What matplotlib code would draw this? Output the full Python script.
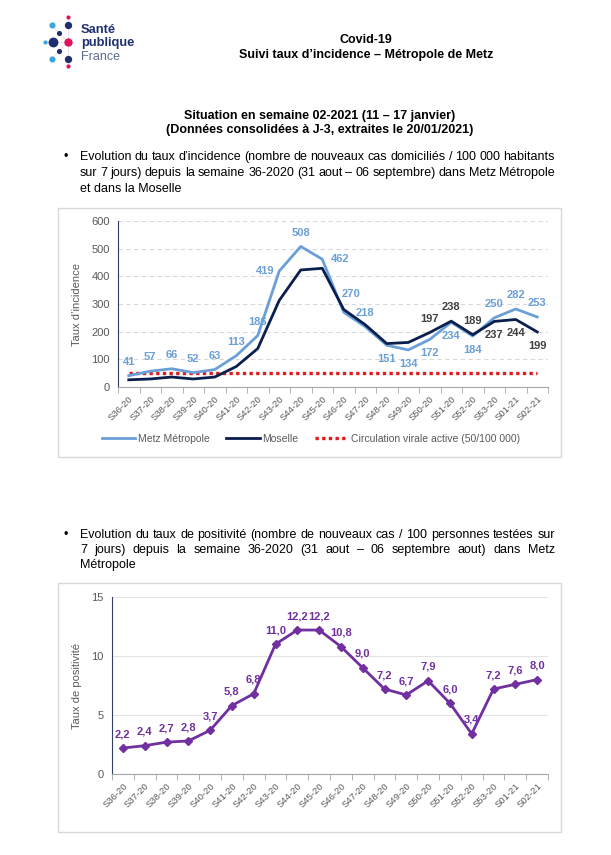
import numpy as np
import matplotlib.pyplot as plt
from matplotlib.patches import Rectangle
from matplotlib.lines import Line2D

plt.rcParams['font.family'] = ['Liberation Sans', 'DejaVu Sans']

# --- data -----------------------------------------------------------------
semaines = ['S36-20', 'S37-20', 'S38-20', 'S39-20', 'S40-20', 'S41-20', 'S42-20',
            'S43-20', 'S44-20', 'S45-20', 'S46-20', 'S47-20', 'S48-20', 'S49-20',
            'S50-20', 'S51-20', 'S52-20', 'S53-20', 'S01-21', 'S02-21']
metz = [41, 57, 66, 52, 63, 113, 186, 419, 508, 462, 270, 218, 151, 134, 172,
        234, 184, 250, 282, 253]
moselle = [26, 29, 36, 29, 36, 74, 139, 313, 423, 429, 280, 225, 157, 161, 197,
           238, 189, 237, 244, 199]
seuil = 50
positivite = [2.2, 2.4, 2.7, 2.8, 3.7, 5.8, 6.8, 11.0, 12.2, 12.2, 10.8, 9.0, 7.2,
              6.7, 7.9, 6.0, 3.4, 7.2, 7.6, 8.0]

# where each label sits (a = above, b = below, l = left, r = right, ar = above right)
pos_metz = ['a'] * 7 + ['l', 'a', 'r', 'ar', 'a', 'b', 'b', 'b', 'b', 'b', 'a', 'a', 'a']
pos_moselle = [None] * 14 + ['a', 'a', 'a', 'b', 'b', 'b']

offsets = {'a': (0, 10), 'b': (0, -10), 'l': (-10, 0), 'r': (13, 0), 'ar': (5, 13)}

W, H = 611, 855
fig = plt.figure(figsize=(W / 100, H / 100), dpi=100)

# page layer in pixel coordinates
page = fig.add_axes([0, 0, 1, 1], zorder=0)
page.set_xlim(0, W)
page.set_ylim(H, 0)
page.axis('off')

# logo
navy = '#1d2f6f'
pink = '#e0115f'
light = '#3aa8df'
dots = [(68, 17, pink, 9), (52, 25, light, 20), (68, 25, navy, 28), (59, 33, navy, 14),
        (45, 42, light, 9), (53, 42, navy, 50), (68, 42, pink, 36), (59, 51, navy, 14),
        (52, 59, light, 20), (68, 59, navy, 28), (68, 66, pink, 9)]
for a, b in [(0, 2), (2, 6), (6, 9), (9, 10), (4, 5), (5, 6), (1, 3), (3, 6), (6, 7), (7, 8)]:
    page.plot([dots[a][0], dots[b][0]], [dots[a][1], dots[b][1]], color='#ecdde3', lw=0.6, zorder=1)
for px, py, c, s in dots:
    page.scatter(px, py, s=s, color=c, zorder=2, linewidths=0)
page.text(81, 30, 'Santé', fontsize=9.3, fontweight='bold', color=navy, va='center')
page.text(81, 43, 'publique', fontsize=9.3, fontweight='bold', color=navy, va='center')
page.text(81, 57, 'France', fontsize=9, color='#5c6b8f', va='center')

# titles
page.text(366, 40, 'Covid-19', fontsize=9, fontweight='bold', ha='center', va='center')
page.text(366, 55, 'Suivi taux d\u2019incidence \u2013 Métropole de Metz', fontsize=9,
          fontweight='bold', ha='center', va='center')
page.text(320, 116, 'Situation en semaine 02-2021 (11 \u2013 17 janvier)', fontsize=9,
          fontweight='bold', ha='center', va='center')
page.text(320, 130, '(Données consolidées à J-3, extraites le 20/01/2021)', fontsize=9,
          fontweight='bold', ha='center', va='center')

renderer = fig.canvas.get_renderer()


def justify(line, y, x0=80, x1=555, last=False):
    if last:
        page.text(x0, y, line, fontsize=9, va='center')
        return
    words = line.split(' ')
    ts = [page.text(0, y, w, fontsize=9, va='center') for w in words]
    widths = [t.get_window_extent(renderer).width for t in ts]
    gap = (x1 - x0 - sum(widths)) / (len(words) - 1)
    x = x0
    for t, w in zip(ts, widths):
        t.set_x(x)
        x += w + gap


page.text(63, 157, '\u2022', fontsize=9, va='center')
justify('Evolution du taux d\u2019incidence (nombre de nouveaux cas domiciliés / 100 000 habitants', 157)
justify('sur 7 jours) depuis la semaine 36-2020 (31 aout \u2013 06 septembre) dans Metz Métropole', 173)
justify('et dans la Moselle', 189, last=True)

page.text(63, 535, '\u2022', fontsize=9, va='center')
justify('Evolution du taux de positivité (nombre de nouveaux cas / 100 personnes testées sur', 535)
justify('7 jours) depuis la semaine 36-2020 (31 aout \u2013 06 septembre aout) dans Metz', 550)
justify('Métropole', 565, last=True)

# chart frames
page.add_patch(Rectangle((58, 208), 503, 249, fill=False, ec='#d9d9d9', lw=1))
page.add_patch(Rectangle((58, 583), 503, 249, fill=False, ec='#d9d9d9', lw=1))

grey = '#595959'
x = np.arange(len(semaines))


def style_axis(ax):
    ax.set_xlim(-0.5, len(semaines) - 0.5)
    ax.set_xticks(x)
    ax.set_xticklabels(semaines, rotation=45, ha='right', rotation_mode='anchor',
                       fontsize=6.8, color=grey)
    ax.set_xticks(np.arange(-0.5, len(semaines)), minor=True)
    ax.tick_params(axis='x', which='major', length=0, pad=5)
    ax.tick_params(axis='x', which='minor', length=4, color='#a6a6a6')
    ax.tick_params(axis='y', length=0, labelsize=8, labelcolor=grey, pad=6)
    for s in ['top', 'right']:
        ax.spines[s].set_visible(False)
    ax.spines['bottom'].set_color('#a6a6a6')
    ax.spines['left'].set_color('#2f3f66')
    ax.set_facecolor('none')
    ax.set_axisbelow(True)


# --- chart 1: taux d'incidence -------------------------------------------
ax1 = fig.add_axes([118 / W, 1 - 387 / H, (548 - 118) / W, (387 - 221) / H])
style_axis(ax1)
ax1.set_ylim(0, 600)
ax1.set_yticks(range(0, 601, 100))
ax1.yaxis.grid(True, color='#d9d9d9', lw=0.8, linestyle=(0, (4, 3)))
c_metz = '#6a9fd8'
c_mos = '#0b1f4d'
red_dots = (0, (1, 1.0))
ax1.plot(x, [seuil] * len(x), color='#e31a1c', lw=2.4, linestyle=red_dots)
ax1.plot(x, metz, color=c_metz, lw=2)
ax1.plot(x, moselle, color=c_mos, lw=2)
for i, v in enumerate(metz):
    ax1.annotate(str(v), (i, v), xytext=offsets[pos_metz[i]], textcoords='offset points',
                 ha='center', va='center', fontsize=8, fontweight='bold', color=c_metz)
for i, v in enumerate(moselle):
    if pos_moselle[i]:
        ax1.annotate(str(v), (i, v), xytext=offsets[pos_moselle[i]], textcoords='offset points',
                     ha='center', va='center', fontsize=8, fontweight='bold', color='#404040')
ax1.set_ylabel('Taux d\u2019incidence', fontsize=8, color=grey)
ax1.yaxis.set_label_coords(-0.084, 0.5)

handles = [Line2D([], [], color=c_metz, lw=2),
           Line2D([], [], color=c_mos, lw=2),
           Line2D([], [], color='#e31a1c', lw=2.4, linestyle=red_dots)]
fig.legend(handles, ['Metz Métropole', 'Moselle', 'Circulation virale active (50/100 000)'],
           loc='center', bbox_to_anchor=(311 / W, 1 - 439 / H), ncol=3, frameon=False,
           fontsize=7.5, labelcolor=grey, handlelength=3.2, handletextpad=0.25, columnspacing=1.6)

# --- chart 2: taux de positivite -------------------------------------------
ax2 = fig.add_axes([112 / W, 1 - 774 / H, (548 - 112) / W, (774 - 597) / H])
style_axis(ax2)
ax2.set_ylim(0, 15)
ax2.set_yticks([0, 5, 10, 15])
ax2.yaxis.grid(True, color='#e3e3e3', lw=0.8)
purple = '#7030a0'
ax2.plot(x, positivite, color=purple, lw=2, marker='D', markersize=4)
for i, v in enumerate(positivite):
    ax2.annotate(f'{v:.1f}'.replace('.', ','), (i, v), xytext=(0, 10), textcoords='offset points',
                 ha='center', va='center', fontsize=8, fontweight='bold', color=purple)
ax2.set_ylabel('Taux de positivité', fontsize=8, color=grey)
ax2.yaxis.set_label_coords(-0.069, 0.5)

fig.savefig('out.png', dpi=100, facecolor='white')
